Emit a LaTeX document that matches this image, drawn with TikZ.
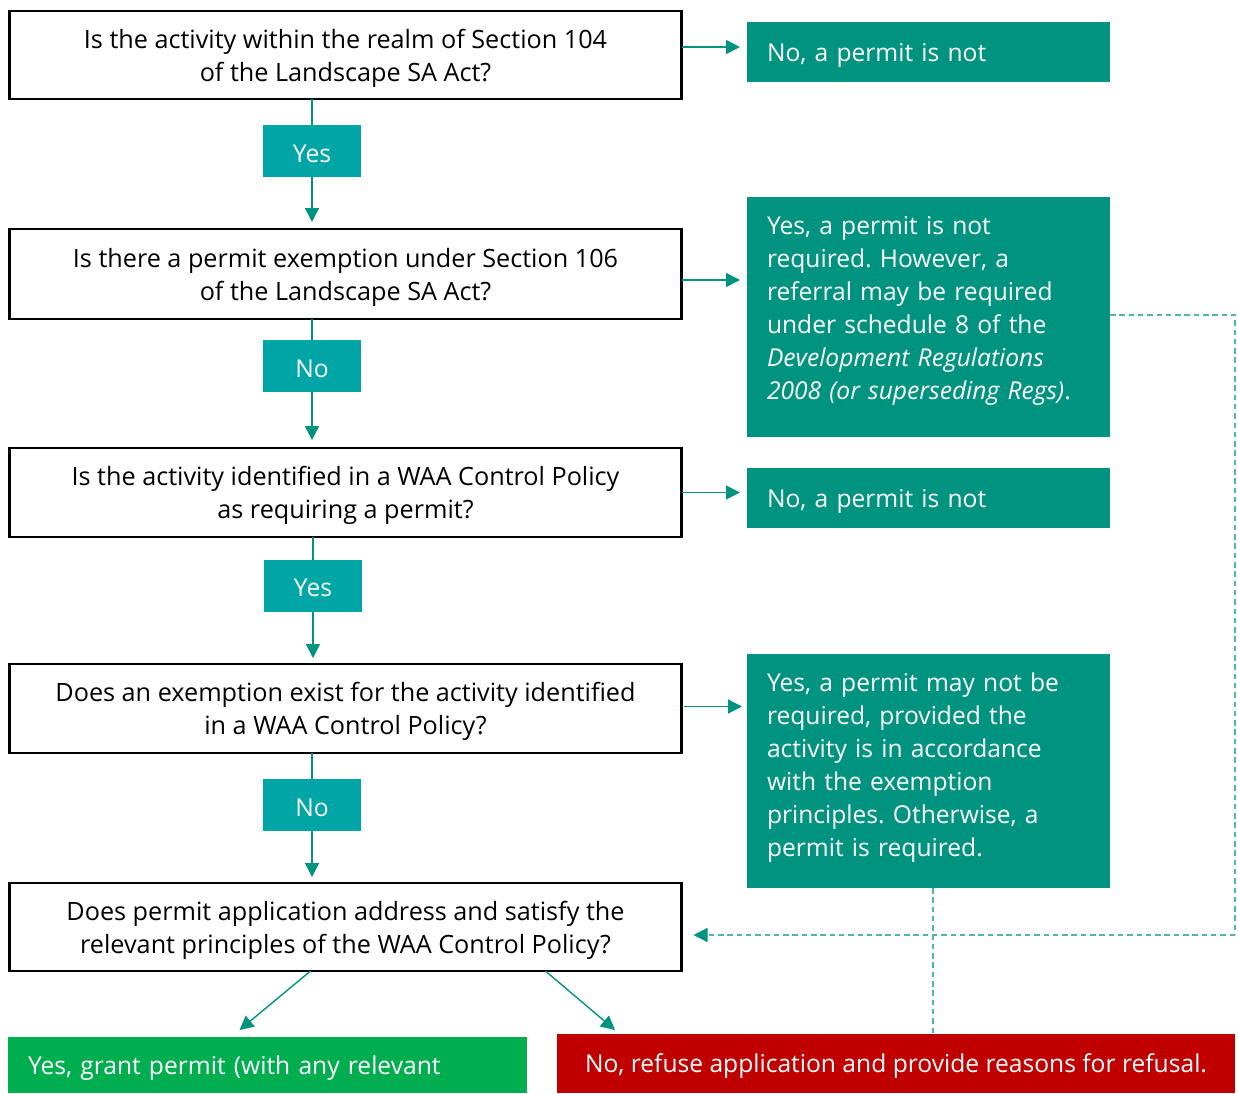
\documentclass[tikz,border=0pt]{standalone}
\usepackage{fontspec}
\setmainfont{Open Sans}
\usetikzlibrary{arrows.meta}
\definecolor{tealdark}{RGB}{0,148,128}
\definecolor{teallight}{RGB}{0,166,166}
\definecolor{dashcol}{RGB}{77,184,168}
\definecolor{grn}{RGB}{0,174,80}
\definecolor{redc}{RGB}{192,0,0}
\frenchspacing
\begin{document}
\begin{tikzpicture}[x=1pt,y=-1pt,
  every node/.style={inner sep=0pt, outer sep=0pt},
  afont/.style={font=\fontsize{24.6}{33}\selectfont},
  txt/.style={afont, text depth=0pt},
  qtxt/.style={font=\fontsize{25.2}{33}\selectfont, text depth=0pt},
  qbox/.style={qtxt, draw=black, line width=2.5pt, minimum width=672pt, align=center},
  ans/.style={afont, fill=tealdark, text=white, minimum width=363pt, text width=323pt, inner xsep=20pt, align=left},
  lbl/.style={txt, fill=teallight, text=white, minimum width=98pt, minimum height=52pt, text height=22pt},
  conn/.style={draw=tealdark, line width=1.4pt},
  arr/.style={conn, -{Triangle[length=14pt,width=14pt]}},
  dsh/.style={draw=dashcol, line width=1.4pt, dash pattern=on 5.5pt off 3.8pt},
]
\useasboundingbox (0,0) rectangle (1238,1093);
% questions
\node[qbox, minimum height=88pt] (q1) at (345.5,55) {Is the activity within the realm of Section 104\\of the Landscape SA Act?};
\node[qbox, minimum height=90pt] (q2) at (345.5,274) {Is there a permit exemption under Section 106\\of the Landscape SA Act?};
\node[qbox, minimum height=89pt] (q3) at (345.5,492.5) {Is the activity identified in a WAA Control Policy\\as requiring a permit?};
\node[qbox, minimum height=89pt] (q4) at (345.5,708.5) {Does an exemption exist for the activity identified\\in a WAA Control Policy?};
\node[qbox, minimum height=88pt] (q5) at (345.5,927) {Does permit application address and satisfy the\\relevant principles of the WAA Control Policy?};
% answers
\node[ans, text depth=0pt, minimum height=60pt] (a1) at (928.5,52) {\mbox{No, a permit is not}};
\node[ans, minimum height=240pt] (a2) at (928.5,317) {\mbox{Yes, a permit is not}\\\mbox{required. However, a}\\\mbox{referral may be required}\\\mbox{under schedule 8 of the}\\\mbox{\textit{Development Regulations}}\\\mbox{\textit{2008 (or superseding Regs)}.}\par\vspace*{13pt}};
\node[ans, text depth=0pt, minimum height=60pt] (a3) at (928.5,498) {\mbox{No, a permit is not}};
\node[ans, minimum height=234pt] (a4) at (928.5,771) {\mbox{Yes, a permit may not be}\\\mbox{required, provided the}\\\mbox{activity is in accordance}\\\mbox{with the exemption}\\\mbox{principles. Otherwise, a}\\\mbox{permit is required.}\par\vspace*{7pt}};
% labels
\node[lbl] (l1) at (312,151) {Yes};
\node[lbl] (l2) at (312,366) {No};
\node[lbl] (l3) at (313,585.5) {Yes};
\node[lbl] (l4) at (312,805) {No};
% outcomes
\node[txt, fill=grn, text=white, minimum width=519pt, minimum height=56pt, text width=479pt, inner xsep=20pt, align=left] (grant) at (267.5,1065) {\mbox{Yes, grant permit (with any relevant}};
\node[txt, fill=redc, text=white, minimum width=678pt, minimum height=59pt] (refuse) at (896,1063.5) {No, refuse application and provide reasons for refusal.};
% vertical connectors
\draw[conn] (q1.south -| l1) -- (l1.north);
\draw[arr, shorten >=7pt] (l1.south) -- (q2.north -| l1);
\draw[conn] (q2.south -| l2) -- (l2.north);
\draw[arr, shorten >=8pt] (l2.south) -- (q3.north -| l2);
\draw[conn] (q3.south -| l3) -- (l3.north);
\draw[arr, shorten >=6pt] (l3.south) -- (q4.north -| l3);
\draw[conn] (q4.south -| l4) -- (l4.north);
\draw[arr, shorten >=6pt] (l4.south) -- (q5.north -| l4);
% horizontal connectors
\draw[arr, shorten >=7pt] ([yshift=8pt]q1.east) -- ([yshift=8pt]q1.east -| a1.west);
\draw[arr, shorten >=7pt] ([yshift=-6pt]q2.east) -- ([yshift=-6pt]q2.east -| a2.west);
\draw[arr, shorten >=7pt] (q3.east) -- (q3.east -| a3.west);
\draw[arr, shorten >=5pt, shorten <=2pt] ([yshift=2pt]q4.east) -- ([yshift=2pt]q4.east -| a4.west);
% dashed connectors
\coordinate (cR) at (1235,935);
\draw[dsh] ([yshift=2pt]a2.east) -| (cR);
\draw[dsh, -{Triangle[length=14pt,width=14pt,color=tealdark]}, shorten >=12pt] (cR) -- (cR -| q5.east);
\draw[dsh] ([xshift=4.5pt]a4.south) -- ([xshift=4.5pt]a4.south |- refuse.north);
% outcome connectors
\draw[arr] ([xshift=-35pt]q5.south) -- ([xshift=-28pt,yshift=7pt]grant.north);
\draw[arr] ([xshift=200pt]q5.south) -- ([xshift=-281pt,yshift=4pt]refuse.north);
\end{tikzpicture}
\end{document}
